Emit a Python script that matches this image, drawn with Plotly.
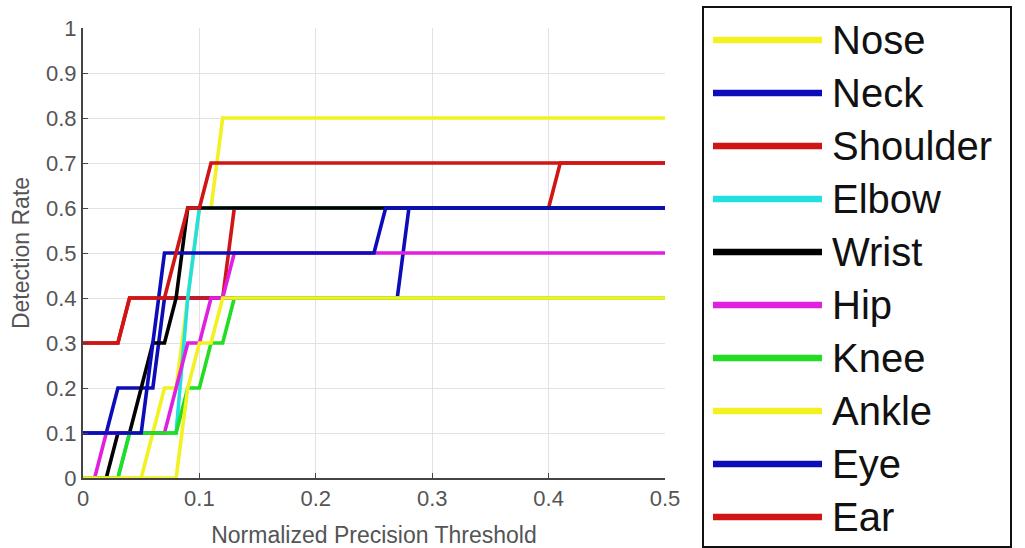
import plotly.graph_objects as go

# ---- data -------------------------------------------------------------
names = ["Nose", "Neck", "Shoulder", "Elbow", "Wrist", "Hip", "Knee", "Ankle", "Eye", "Ear"]
colors = ["#f2f222", "#0c0cb8", "#d01515", "#22e0e0", "#000000",
          "#e020e0", "#22dd22", "#f2f222", "#0c0cb8", "#d01515"]

nose_x = [0, 0.05, 0.06, 0.07, 0.08, 0.09, 0.10, 0.11, 0.12, 0.5]
nose_y = [0, 0, 0.1, 0.2, 0.2, 0.4, 0.6, 0.6, 0.8, 0.8]

neck_x = [0, 0.02, 0.03, 0.06, 0.07, 0.27, 0.28, 0.5]
neck_y = [0.1, 0.1, 0.2, 0.2, 0.4, 0.4, 0.6, 0.6]

shoulder_x = [0, 0.03, 0.04, 0.12, 0.13, 0.40, 0.41, 0.5]
shoulder_y = [0.3, 0.3, 0.4, 0.4, 0.6, 0.6, 0.7, 0.7]

elbow_x = [0, 0.03, 0.04, 0.08, 0.09, 0.10, 0.5]
elbow_y = [0, 0, 0.1, 0.1, 0.4, 0.6, 0.6]

wrist_x = [0, 0.02, 0.03, 0.04, 0.05, 0.06, 0.07, 0.08, 0.09, 0.5]
wrist_y = [0, 0, 0.1, 0.1, 0.2, 0.3, 0.3, 0.4, 0.6, 0.6]

hip_x = [0, 0.01, 0.02, 0.07, 0.08, 0.09, 0.10, 0.11, 0.12, 0.13, 0.5]
hip_y = [0, 0, 0.1, 0.1, 0.2, 0.3, 0.3, 0.4, 0.4, 0.5, 0.5]

knee_x = [0, 0.03, 0.04, 0.08, 0.09, 0.10, 0.11, 0.12, 0.13, 0.5]
knee_y = [0, 0, 0.1, 0.1, 0.2, 0.2, 0.3, 0.3, 0.4, 0.4]

ankle_x = [0, 0.08, 0.09, 0.10, 0.11, 0.12, 0.5]
ankle_y = [0, 0, 0.2, 0.3, 0.3, 0.4, 0.4]

eye_x = [0, 0.05, 0.06, 0.07, 0.25, 0.26, 0.5]
eye_y = [0.1, 0.1, 0.3, 0.5, 0.5, 0.6, 0.6]

ear_x = [0, 0.03, 0.04, 0.07, 0.08, 0.09, 0.10, 0.11, 0.5]
ear_y = [0.3, 0.3, 0.4, 0.4, 0.5, 0.6, 0.6, 0.7, 0.7]

series_x = [nose_x, neck_x, shoulder_x, elbow_x, wrist_x, hip_x, knee_x, ankle_x, eye_x, ear_x]
series_y = [nose_y, neck_y, shoulder_y, elbow_y, wrist_y, hip_y, knee_y, ankle_y, eye_y, ear_y]

x_ticks = [0, 0.1, 0.2, 0.3, 0.4, 0.5]
x_tick_text = ["0", "0.1", "0.2", "0.3", "0.4", "0.5"]
y_ticks = [0, 0.1, 0.2, 0.3, 0.4, 0.5, 0.6, 0.7, 0.8, 0.9, 1]
y_tick_text = ["0", "0.1", "0.2", "0.3", "0.4", "0.5", "0.6", "0.7", "0.8", "0.9", "1"]

# ---- figure -----------------------------------------------------------
W, H = 1025, 548
L, R, T, B = 83, 360, 28, 70
pw, ph = W - L - R, H - T - B

fig = go.Figure()
for nm, col, xs, ys in zip(names, colors, series_x, series_y):
    fig.add_trace(go.Scatter(x=xs, y=ys, mode="lines", name=nm,
                             line=dict(color=col, width=3.6), showlegend=False))

tick_font = dict(family="Liberation Sans, Arial, sans-serif", size=22, color="#555555")
title_font = dict(family="Liberation Sans, Arial, sans-serif", size=23, color="#555555")
fig.update_xaxes(range=[0, 0.5], tickvals=x_ticks, ticktext=x_tick_text, automargin=False,
                 showgrid=True, gridcolor="#e2e2e2", gridwidth=1,
                 showline=True, linecolor="#444444", linewidth=2,
                 ticks="inside", ticklen=5, tickcolor="#444444",
                 tickfont=tick_font, zeroline=False,
                 title=dict(text="Normalized Precision Threshold", font=title_font, standoff=17))
fig.update_yaxes(range=[0, 1], tickvals=y_ticks, ticktext=y_tick_text, automargin=False,
                 showgrid=True, gridcolor="#e2e2e2", gridwidth=1,
                 showline=True, linecolor="#444444", linewidth=2,
                 ticks="inside", ticklen=5, tickcolor="#444444",
                 tickfont=tick_font, zeroline=False,
                 title=dict(text="Detection Rate", font=title_font, standoff=10))


def px2paper(px, py):
    return (px - L) / pw, (H - B - py) / ph


shapes = []
annotations = []
bx0, by0 = px2paper(703, 547)
bx1, by1 = px2paper(1011, 7)
shapes.append(dict(type="rect", xref="paper", yref="paper", x0=bx0, y0=by0, x1=bx1, y1=by1,
                   line=dict(color="#111111", width=2), fillcolor="rgba(255,255,255,0)"))
for i, (nm, col) in enumerate(zip(names, colors)):
    yc = 40 + 53 * i
    lx0, ly = px2paper(713, yc)
    lx1, _ = px2paper(822, yc)
    shapes.append(dict(type="line", xref="paper", yref="paper", x0=lx0, x1=lx1, y0=ly, y1=ly,
                       line=dict(color=col, width=6.5)))
    tx, _ = px2paper(830, yc)
    annotations.append(dict(xref="paper", yref="paper", x=tx, y=ly, text=nm, showarrow=False,
                            xanchor="left", yanchor="middle",
                            font=dict(family="Liberation Sans, Arial, sans-serif", size=40, color="#111111")))

fig.update_layout(width=W, height=H, margin=dict(l=L, r=R, t=T, b=B),
                  paper_bgcolor="white", plot_bgcolor="white",
                  shapes=shapes, annotations=annotations, showlegend=False)

fig.write_html("out.html")
